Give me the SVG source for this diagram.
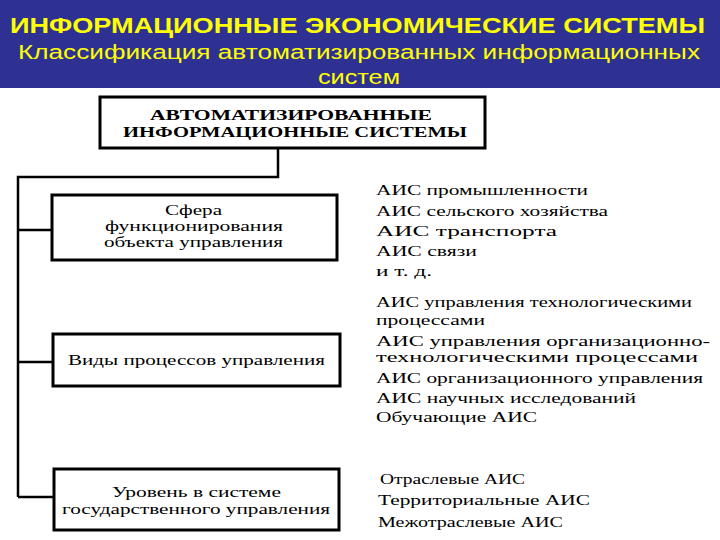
<svg xmlns="http://www.w3.org/2000/svg" width="720" height="540" viewBox="0 0 720 540">
<style>
.box{fill:#fff;stroke:#000;stroke-width:3}
.ln{fill:none;stroke:#000;stroke-width:2.5}
.t{font-family:"Liberation Serif",serif;font-size:15px;fill:#000}
.b{font-family:"Liberation Serif",serif;font-size:15px;font-weight:bold;fill:#000}
.h{font-family:"Liberation Sans",Arial,sans-serif;fill:#ffff00}
</style>
<rect x="0" y="0" width="720" height="88" fill="#2e3192"/>
<text class="h" x="10" y="33" font-size="22" font-weight="bold" textLength="695" lengthAdjust="spacingAndGlyphs">ИНФОРМАЦИОННЫЕ ЭКОНОМИЧЕСКИЕ СИСТЕМЫ</text>
<text class="h" x="18" y="59" font-size="20" textLength="682" lengthAdjust="spacingAndGlyphs">Классификация автоматизированных информационных</text>
<text class="h" x="318" y="84" font-size="20" textLength="82" lengthAdjust="spacingAndGlyphs">систем</text>
<g id="connectors">
<path class="ln" d="M278 148 V177 H18 V497 M18 230 H52 M18 362 H53 M18 497 H54"/>
</g>
<g id="root"><rect class="box" x="100" y="97" width="385" height="51"/>
<text class="b" x="150" y="120" textLength="282" lengthAdjust="spacingAndGlyphs">АВТОМАТИЗИРОВАННЫЕ</text>
<text class="b" x="123" y="137" textLength="344" lengthAdjust="spacingAndGlyphs">ИНФОРМАЦИОННЫЕ СИСТЕМЫ</text></g>
<g id="n1" class="t"><rect class="box" x="52" y="195" width="285" height="65"/>
<text x="165" y="215" textLength="57" lengthAdjust="spacingAndGlyphs">Сфера</text>
<text x="105" y="231" textLength="178" lengthAdjust="spacingAndGlyphs">функционирования</text>
<text x="104" y="247" textLength="179" lengthAdjust="spacingAndGlyphs">объекта управления</text></g>
<g id="n2" class="t"><rect class="box" x="53" y="334" width="287" height="52"/>
<text x="68" y="365" textLength="257" lengthAdjust="spacingAndGlyphs">Виды процессов управления</text></g>
<g id="n3" class="t"><rect class="box" x="54" y="469" width="285" height="61"/>
<text x="112" y="497" textLength="169" lengthAdjust="spacingAndGlyphs">Уровень в системе</text>
<text x="62" y="514" textLength="268" lengthAdjust="spacingAndGlyphs">государственного управления</text></g>
<g id="l1" class="t">
<text x="376" y="195" textLength="212" lengthAdjust="spacingAndGlyphs">АИС промышленности</text>
<text x="376" y="216" textLength="232" lengthAdjust="spacingAndGlyphs">АИС сельского хозяйства</text>
<text x="376" y="236" textLength="181" lengthAdjust="spacingAndGlyphs">АИС транспорта</text>
<text x="376" y="256" textLength="101" lengthAdjust="spacingAndGlyphs">АИС связи</text>
<text x="376" y="276" textLength="56" lengthAdjust="spacingAndGlyphs">и т. д.</text></g>
<g id="l2" class="t">
<text x="376" y="307" textLength="316" lengthAdjust="spacingAndGlyphs">АИС управления технологическими</text>
<text x="376" y="325" textLength="109" lengthAdjust="spacingAndGlyphs">процессами</text>
<text x="376" y="346" textLength="334" lengthAdjust="spacingAndGlyphs">АИС управления организационно-</text>
<text x="376" y="362" textLength="322" lengthAdjust="spacingAndGlyphs">технологическими процессами</text>
<text x="376" y="383" textLength="327" lengthAdjust="spacingAndGlyphs">АИС организационного управления</text>
<text x="376" y="403" textLength="260" lengthAdjust="spacingAndGlyphs">АИС научных исследований</text>
<text x="376" y="422" textLength="161" lengthAdjust="spacingAndGlyphs">Обучающие АИС</text></g>
<g id="l3" class="t">
<text x="380" y="484" textLength="145" lengthAdjust="spacingAndGlyphs">Отраслевые АИС</text>
<text x="378" y="505" textLength="212" lengthAdjust="spacingAndGlyphs">Территориальные АИС</text>
<text x="378" y="527" textLength="185" lengthAdjust="spacingAndGlyphs">Межотраслевые АИС</text></g>
</svg>
